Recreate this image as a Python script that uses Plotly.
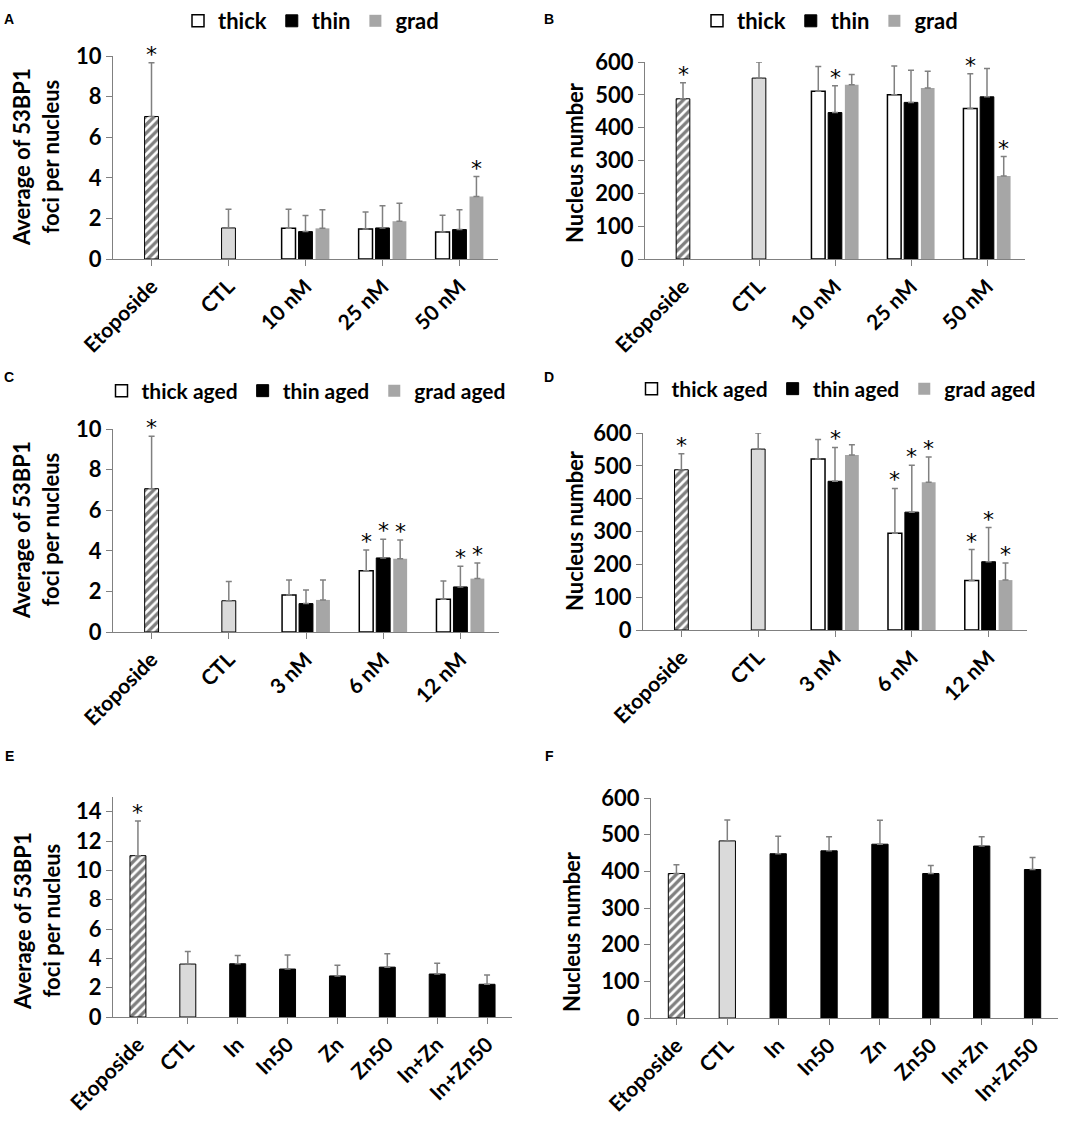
import plotly.graph_objects as go

W, H = 1084, 1126

# ---- data ----
cats_ab = ["Etoposide", "CTL", "10 nM", "25 nM", "50 nM"]
cats_cd = ["Etoposide", "CTL", "3 nM", "6 nM", "12 nM"]
cats_ef = ["Etoposide", "CTL", "In", "In50", "Zn", "Zn50", "In+Zn", "In+Zn50"]

# panel A: 53BP1 foci, fresh films
a_ctrl = [7.02, 1.53]
a_ctrl_err = [2.65, 0.92]
a_thick = [1.51, 1.48, 1.33]
a_thick_err = [0.94, 0.84, 0.82]
a_thin = [1.35, 1.53, 1.45]
a_thin_err = [0.79, 1.09, 0.97]
a_grad = [1.51, 1.86, 3.08]
a_grad_err = [0.91, 0.89, 0.98]
a_stars = [("Etoposide", "ctrl"), ("50 nM", "grad")]

# panel B: nucleus number, fresh films
b_ctrl = [488, 551]
b_ctrl_err = [49, 49]
b_thick = [511, 500, 458]
b_thick_err = [75, 88, 106]
b_thin = [446, 477, 494]
b_thin_err = [82, 98, 86]
b_grad = [531, 521, 253]
b_grad_err = [31, 51, 59]
b_stars = [("Etoposide", "ctrl"), ("10 nM", "thin"), ("50 nM", "thick"), ("50 nM", "grad")]

# panel C: 53BP1 foci, aged films
c_ctrl = [7.06, 1.54]
c_ctrl_err = [2.58, 0.95]
c_thick = [1.82, 3.02, 1.61]
c_thick_err = [0.74, 1.02, 0.90]
c_thin = [1.40, 3.65, 2.22]
c_thin_err = [0.67, 0.92, 1.02]
c_grad = [1.58, 3.61, 2.63]
c_grad_err = [0.98, 0.92, 0.77]
c_stars = [("Etoposide", "ctrl"), ("6 nM", "thick"), ("6 nM", "thin"), ("6 nM", "grad"),
           ("12 nM", "thin"), ("12 nM", "grad")]

# panel D: nucleus number, aged films
d_ctrl = [488, 551]
d_ctrl_err = [49, 49]
d_thick = [521, 295, 151]
d_thick_err = [59, 136, 94]
d_thin = [453, 359, 208]
d_thin_err = [103, 143, 104]
d_grad = [533, 450, 152]
d_grad_err = [31, 77, 52]
d_stars = [("Etoposide", "ctrl"), ("3 nM", "thin"), ("6 nM", "thick"), ("6 nM", "thin"),
           ("6 nM", "grad"), ("12 nM", "thick"), ("12 nM", "thin"), ("12 nM", "grad")]

# panel E / F: ions
e_vals = [11.0, 3.61, 3.63, 3.27, 2.80, 3.40, 2.93, 2.23]
e_err = [2.37, 0.86, 0.56, 0.95, 0.72, 0.92, 0.74, 0.63]
e_stars = [("Etoposide", "ctrl")]
f_vals = [394, 483, 448, 456, 474, 394, 469, 405]
f_err = [24, 57, 48, 38, 65, 22, 25, 33]
f_stars = []

FOCI_TITLE = "Average of 53BP1<br>foci per nucleus"
NUC_TITLE = "Nucleus number"

ERR = dict(type="data", symmetric=False, color="#808080", thickness=1.5, width=3)
HATCH = dict(shape="/", fgcolor="black", bgcolor="white", size=6, solidity=0.55)
DOTS = dict(shape=".", fgcolor="#555555", bgcolor="white", size=2, solidity=0.5)
STAR_FONT = dict(size=22, weight="normal", color="black", family="DejaVu Sans")

fig = go.Figure()


def px(x):
    return x / W


def py(y):
    return 1 - y / H


def err(vals):
    return dict(ERR, array=vals, arrayminus=[0] * len(vals))


def add_grouped(k, cats, ctrl, ctrl_err, series, stars, names, legend):
    xa, ya = ("x", "y") if k == 1 else (f"x{k}", f"y{k}")
    bw, step = 0.18, 0.22
    # etoposide and control bars
    fig.add_trace(go.Bar(x=cats[:1], y=ctrl[:1], error_y=err(ctrl_err[:1]), width=bw, offset=-bw / 2,
                         marker=dict(color="white", pattern=HATCH, line=dict(color="black", width=1)),
                         showlegend=False, xaxis=xa, yaxis=ya))
    fig.add_trace(go.Bar(x=cats[1:2], y=ctrl[1:2], error_y=err(ctrl_err[1:2]), width=bw, offset=-bw / 2,
                         marker=dict(color="white", pattern=DOTS, line=dict(color="black", width=1)),
                         showlegend=False, xaxis=xa, yaxis=ya))
    styles = [dict(color="white", line=dict(color="black", width=1.5)),
              dict(color="black", line=dict(color="black", width=1)),
              dict(color="#a6a6a6", line=dict(color="#a6a6a6", width=0))]
    shifts = [-step, 0, step]
    for (vals, errs), name, st, sh in zip(series, names, styles, shifts):
        fig.add_trace(go.Bar(x=cats[2:], y=vals, error_y=err(errs), width=bw, offset=sh - bw / 2,
                             marker=st, name=name, legend=legend, xaxis=xa, yaxis=ya))
    key = {"thick": 0, "thin": 1, "grad": 2}
    for cat, s in stars:
        if s == "ctrl":
            i = cats.index(cat)
            top = ctrl[i] + ctrl_err[i]
            xpos = i
        else:
            j = cats.index(cat) - 2
            v, e = series[key[s]]
            top = v[j] + e[j]
            xpos = cats.index(cat) + shifts[key[s]]
        fig.add_annotation(x=xpos, y=top, xref=xa, yref=ya, text="*", showarrow=False,
                           yanchor="bottom", yshift=-6, font=STAR_FONT)


def add_simple(k, cats, vals, errs, stars):
    xa, ya = f"x{k}", f"y{k}"
    bw = 0.32
    fig.add_trace(go.Bar(x=cats[:1], y=vals[:1], error_y=err(errs[:1]), width=bw, offset=-bw / 2,
                         marker=dict(color="white", pattern=HATCH, line=dict(color="black", width=1)),
                         showlegend=False, xaxis=xa, yaxis=ya))
    fig.add_trace(go.Bar(x=cats[1:2], y=vals[1:2], error_y=err(errs[1:2]), width=bw, offset=-bw / 2,
                         marker=dict(color="white", pattern=DOTS, line=dict(color="black", width=1)),
                         showlegend=False, xaxis=xa, yaxis=ya))
    fig.add_trace(go.Bar(x=cats[2:], y=vals[2:], error_y=err(errs[2:]), width=bw, offset=-bw / 2,
                         marker=dict(color="black", line=dict(color="black", width=1)),
                         showlegend=False, xaxis=xa, yaxis=ya))
    for cat, s in stars:
        i = cats.index(cat)
        fig.add_annotation(x=i, y=vals[i] + errs[i], xref=xa, yref=ya, text="*", showarrow=False,
                           yanchor="bottom", yshift=-6, font=STAR_FONT)


add_grouped(1, cats_ab, a_ctrl, a_ctrl_err,
            [(a_thick, a_thick_err), (a_thin, a_thin_err), (a_grad, a_grad_err)],
            a_stars, ["thick", "thin", "grad"], "legend")
add_grouped(2, cats_ab, b_ctrl, b_ctrl_err,
            [(b_thick, b_thick_err), (b_thin, b_thin_err), (b_grad, b_grad_err)],
            b_stars, ["thick", "thin", "grad"], "legend2")
add_grouped(3, cats_cd, c_ctrl, c_ctrl_err,
            [(c_thick, c_thick_err), (c_thin, c_thin_err), (c_grad, c_grad_err)],
            c_stars, ["thick aged", "thin aged", "grad aged"], "legend3")
add_grouped(4, cats_cd, d_ctrl, d_ctrl_err,
            [(d_thick, d_thick_err), (d_thin, d_thin_err), (d_grad, d_grad_err)],
            d_stars, ["thick aged", "thin aged", "grad aged"], "legend4")
add_simple(5, cats_ef, e_vals, e_err, e_stars)
add_simple(6, cats_ef, f_vals, f_err, f_stars)

# panel geometry (pixels): x left/right, y top/bottom, y range, dtick, categories
panels = [
    (113, 498, 56, 259, [0, 10], 2, cats_ab),
    (645, 1025, 62, 259, [0, 600], 100, cats_ab),
    (113, 499, 429, 632, [0, 10], 2, cats_cd),
    (643, 1027, 433, 630, [0, 600], 100, cats_cd),
    (113, 512, 797, 1017, [0, 15], 2, cats_ef),
    (651, 1058, 798, 1018, [0, 600], 100, cats_ef),
]
axis_line = "#808080"
for k, (l, r, t, b, yr, dt, cats) in enumerate(panels, start=1):
    sx = "" if k == 1 else str(k)
    fig.update_layout(**{
        f"xaxis{sx}": dict(domain=[px(l), px(r)], anchor=f"y{sx}", type="category",
                           categoryorder="array", categoryarray=cats, range=[-0.5, len(cats) - 0.5],
                           tickangle=-45, showline=True, linecolor=axis_line, linewidth=1,
                           ticks="outside", ticklen=6, tickcolor=axis_line, showgrid=False,
                           zeroline=False, tickfont=dict(size=21), automargin=False),
        f"yaxis{sx}": dict(domain=[py(b), py(t)], anchor=f"x{sx}", range=yr, dtick=dt, showline=True,
                           linecolor=axis_line, linewidth=1, ticks="outside", ticklen=6,
                           tickcolor=axis_line, showgrid=False, zeroline=False,
                           tickfont=dict(size=22), automargin=False),
    })

# y-axis titles
titles = [(36, 157, FOCI_TITLE), (574, 163, NUC_TITLE), (36, 530, FOCI_TITLE),
          (574, 531, NUC_TITLE), (37, 921, FOCI_TITLE), (571, 932, NUC_TITLE)]
for x, y, txt in titles:
    fig.add_annotation(x=px(x), y=py(y), xref="paper", yref="paper", text=txt, textangle=-90,
                       showarrow=False, xanchor="center", yanchor="middle", font=dict(size=22))

# panel letters
for x, y, txt in [(9, 19, "A"), (549, 19, "B"), (9, 377, "C"), (549, 377, "D"),
                  (9, 756, "E"), (549, 756, "F")]:
    fig.add_annotation(x=px(x), y=py(y), xref="paper", yref="paper", text=txt, showarrow=False,
                       xanchor="center", yanchor="middle",
                       font=dict(family="Liberation Sans", size=14, weight="bold"))

leg = dict(orientation="h", xanchor="center", font=dict(size=22),
           bgcolor="rgba(0,0,0,0)", traceorder="normal")
fig.update_layout(
    width=W, height=H,
    margin=dict(l=0, r=0, t=0, b=0),
    paper_bgcolor="white", plot_bgcolor="white",
    font=dict(family="Lato", size=20, color="black", weight="bold"),
    barmode="overlay",
    # top legends hang from the top edge so they do not push the margins
    legend=dict(leg, x=px(311), y=1, yanchor="top"),
    legend2=dict(leg, x=px(830), y=1, yanchor="top"),
    legend3=dict(leg, x=px(306), y=py(391), yanchor="middle", font=dict(size=21)),
    legend4=dict(leg, x=px(836), y=py(389), yanchor="middle", font=dict(size=21)),
)

# the page body has a default 8px margin; drop it so the figure sits at the window corner
fig.write_html("out.html", config={"displayModeBar": False},
               post_script="document.body.style.margin = '0px';")
